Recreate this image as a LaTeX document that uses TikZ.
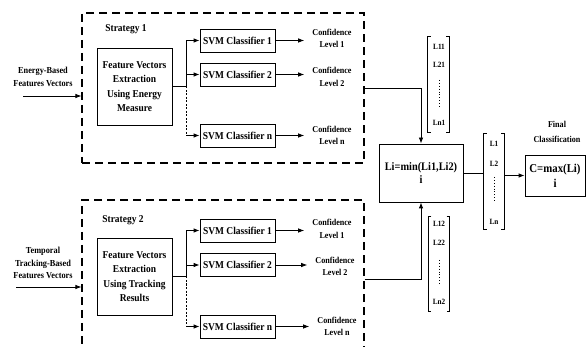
\documentclass[tikz,border=0pt]{standalone}
\usepackage{fontspec}
\setmainfont{Liberation Serif}[FakeStretch=0.9]
\usetikzlibrary{arrows.meta}
\begin{document}
\begin{tikzpicture}[x=1pt,y=-1pt, font=\bfseries,
  box/.style={draw, line width=0.8pt, inner sep=0pt, align=center},
  dbox/.style={draw, line width=1.1pt, dash pattern=on 8pt off 5pt, inner sep=0pt},
  svm/.style={box, minimum width=75pt, minimum height=23pt, font=\bfseries\fontsize{10.5}{12}\selectfont},
  feat/.style={box, minimum width=75pt, minimum height=77pt, font=\bfseries\fontsize{10.5}{14.5}\selectfont},
  conf/.style={align=center, inner ysep=0pt, inner xsep=8pt, font=\bfseries\fontsize{9}{12.5}\selectfont},
  intext/.style={align=center, inner sep=0pt, font=\bfseries\fontsize{9.2}{12.3}\selectfont},
  strat/.style={inner sep=0pt, font=\bfseries\fontsize{10.5}{12}\selectfont},
  vec/.style={inner sep=0pt, minimum width=21pt},
  ent/.style={inner sep=0pt, font=\bfseries\fontsize{8}{9}\selectfont},
  arr/.style={-{Latex[length=6pt,width=4.5pt]}, line width=0.8pt},
  ln/.style={line width=0.8pt},
  dots/.style={dotted, line width=0.9pt},
]
\useasboundingbox (0,0) rectangle (586,347);
\clip (0,0) rectangle (586,347);

% ---------- Strategy 1 ----------
\node[dbox, minimum width=282pt, minimum height=150pt] (s1) at (223,88) {};
\node[strat] (st1) at (126,29) {Strategy 1};
\node[intext] (in1) at (43,77) {Energy-Based\\Features Vectors};
\coordinate (in1s) at (23,96);
\draw[arr] (in1s) -- (in1s -| s1.west);

\node[feat] (f1) at (134.5,86.5) {Feature Vectors\\Extraction\\Using Energy\\Measure};
\node[svm] (v11) at (237.5,40.5) {SVM Classifier 1};
\node[svm] (v12) at (237.5,74.5) {SVM Classifier 2};
\node[svm] (v1n) at (237.5,135.5) {SVM Classifier n};
\draw[ln] (f1.east) -- ++(14,0) coordinate (b1);
\draw[arr] (b1) |- (v11.west);
\draw[arr] (b1 |- v12.west) -- (v12.west);
\draw[ln, dashed, dash pattern=on 2pt off 1.5pt] (b1) -- (b1 |- v1n.west);
\draw[arr] (b1 |- v1n.west) -- (v1n.west);

\node[conf] (c11) at (332,38.5) {Confidence\\Level 1};
\node[conf] (c12) at (332,77) {Confidence\\Level 2};
\node[conf] (c1n) at (332,135.5) {Confidence\\Level n};
\draw[arr] (v11.east) -- (v11.east -| c11.west);
\draw[arr] (v12.east) -- (v12.east -| c12.west);
\draw[arr] (v1n.east) -- (v1n.east -| c1n.west);

% ---------- Strategy 2 ----------
\node[dbox, minimum width=282pt, minimum height=158pt] (s2) at (223,279) {};
\node[strat] (st2) at (123,220) {Strategy 2};
\node[intext] (in2) at (43,263) {Temporal\\Tracking-Based\\Features Vectors};
\coordinate (in2s) at (16,287);
\draw[arr] (in2s) -- (in2s -| s2.west);

\node[feat] (f2) at (134.5,276.5) {Feature Vectors\\Extraction\\Using Tracking\\Results};
\node[svm] (v21) at (237.5,230.5) {SVM Classifier 1};
\node[svm] (v22) at (237.5,265) {SVM Classifier 2};
\node[svm] (v2n) at (237.5,326.5) {SVM Classifier n};
\draw[ln] (f2.east) -- ++(14,0) coordinate (b2);
\draw[arr] (b2) |- (v21.west);
\draw[arr] (b2 |- v22.west) -- (v22.west);
\draw[ln, dashed, dash pattern=on 2pt off 1.5pt] (b2) -- (b2 |- v2n.west);
\draw[arr] (b2 |- v2n.west) -- (v2n.west);

\node[conf] (c21) at (332,229) {Confidence\\Level 1};
\node[conf] (c22) at (335,266.5) {Confidence\\Level 2};
\node[conf] (c2n) at (337,326.5) {Confidence\\Level n};
\draw[arr] (v21.east) -- (v21.east -| c21.west);
\draw[arr] (v22.east) -- (v22.east -| c22.west);
\draw[arr] (v2n.east) -- (v2n.east -| c2n.west);

% ---------- Fusion ----------
\node[box, minimum width=84pt, minimum height=58pt, font=\bfseries\fontsize{11.5}{13}\selectfont] (li) at (421,173) {Li=min(Li1,Li2)\\i};
\draw[arr] (s1.east) -| (li.north);
\draw[arr] (s2.east) -| (li.south);

% vector 1
\node[vec, minimum height=95pt] (w1) at (438.5,84.5) {};
\draw[ln] ([xshift=3pt]w1.north west) -- (w1.north west) -- (w1.south west) -- ([xshift=3pt]w1.south west);
\draw[ln] ([xshift=-3pt]w1.north east) -- (w1.north east) -- (w1.south east) -- ([xshift=-3pt]w1.south east);
\node[ent] (l11) at (439,47) {L11};
\node[ent] (l21) at (439,65) {L21};
\draw[dots] (439,80) -- (439,107);
\node[ent] (ln1) at (439,123) {Ln1};

% vector 2
\node[vec, minimum height=94pt] (w2) at (439,264) {};
\draw[ln] ([xshift=3pt]w2.north west) -- (w2.north west) -- (w2.south west) -- ([xshift=3pt]w2.south west);
\draw[ln] ([xshift=-3pt]w2.north east) -- (w2.north east) -- (w2.south east) -- ([xshift=-3pt]w2.south east);
\node[ent] (l12) at (439,224) {L12};
\node[ent] (l22) at (439,243) {L22};
\draw[dots] (439,260) -- (439,285);
\node[ent] (ln2) at (439,302) {Ln2};

% output vector
\node[vec, minimum width=20pt, minimum height=95pt] (w3) at (494,181.5) {};
\draw[ln] ([xshift=3pt]w3.north west) -- (w3.north west) -- (w3.south west) -- ([xshift=3pt]w3.south west);
\draw[ln] ([xshift=-3pt]w3.north east) -- (w3.north east) -- (w3.south east) -- ([xshift=-3pt]w3.south east);
\node[ent] (l1) at (494,144) {L1};
\node[ent] (l2) at (494,164) {L2};
\draw[dots] (494,177) -- (494,203);
\node[ent] (lnn) at (494,222) {Ln};

\draw[ln] (li.east) -- (li.east -| w3.west);

\node[box, minimum width=60pt, minimum height=41pt, font=\bfseries\fontsize{12}{15}\selectfont] (cm) at (555,175.5) {C=max(Li)\\i};
\node[intext, font=\bfseries\fontsize{9}{15}\selectfont] (fin) at (557,132) {Final\\Classification};
\draw[arr] (w3.east |- cm.west) -- (cm.west);
\end{tikzpicture}
\end{document}
